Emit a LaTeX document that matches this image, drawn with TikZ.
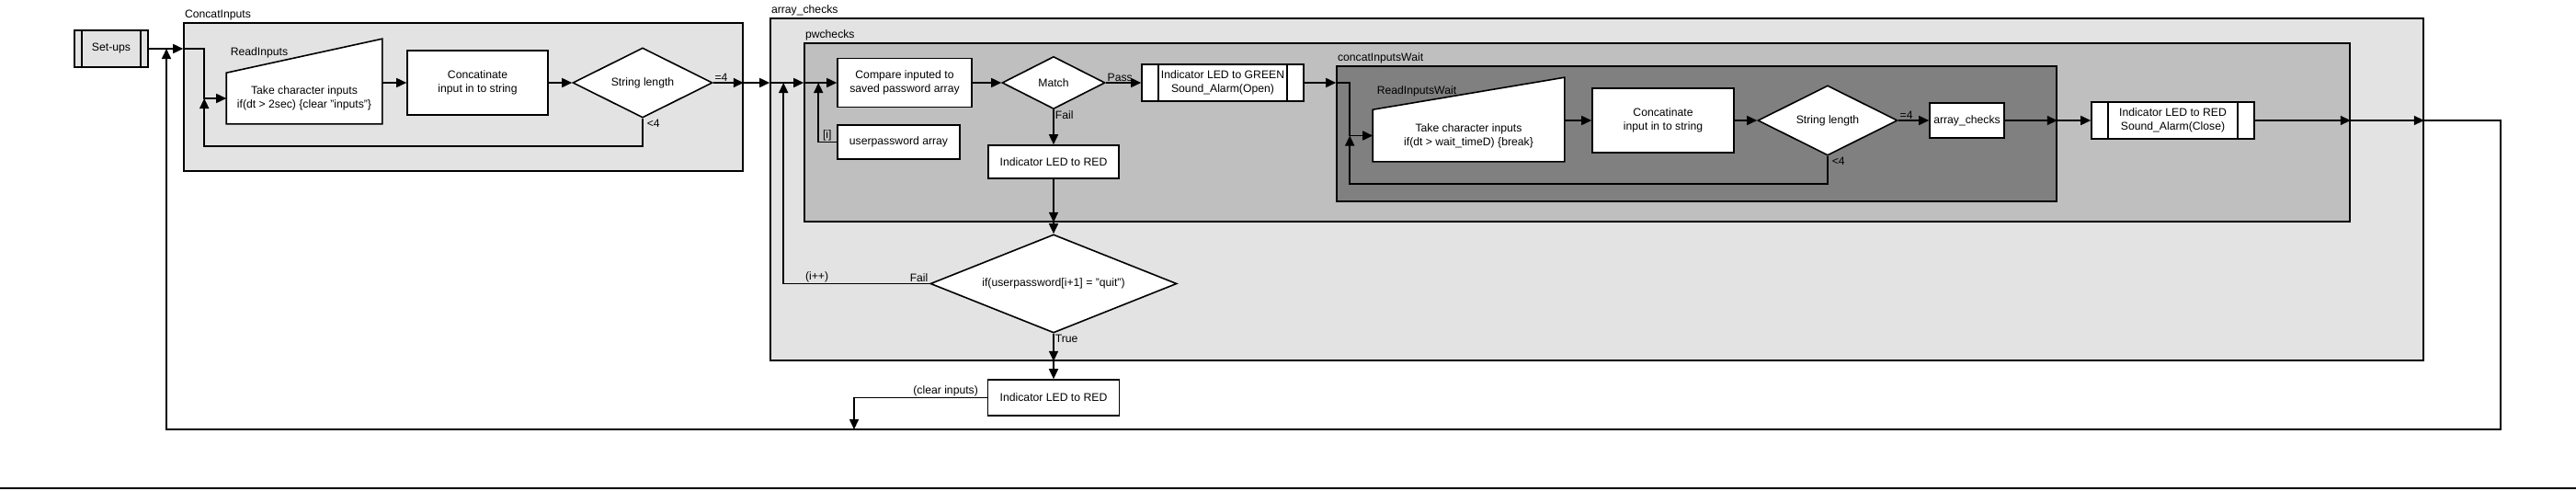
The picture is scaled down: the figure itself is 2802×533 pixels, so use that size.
\documentclass[tikz,border=0pt]{standalone}
\usepackage{fontspec}
\setmainfont{Liberation Sans}
\usetikzlibrary{arrows.meta, shapes.geometric, calc}

\begin{document}
\begin{tikzpicture}[x = 1pt, y = -1pt, line width = 1.6pt, >={Triangle[length=11pt, width=10pt]},
	font = \fontsize{12.2}{15}\selectfont,
	grp/.style = {draw, inner sep = 0pt},
	box/.style = {draw, fill = white, align = center, inner sep = 0pt},
	subbox/.style = {box, path picture = {\draw [line width = 1.6pt] ([xshift = #1]path picture bounding box.north west) -- ([xshift = #1]path picture bounding box.south west) ([xshift = -#1]path picture bounding box.north east) -- ([xshift = -#1]path picture bounding box.south east);}},
	cond/.style = {diamond, aspect = 2.5, draw, fill = white, align = center, inner sep = 0pt},
	inbox/.style = {minimum width = 168, minimum height = 54, inner sep = 0pt},
	lbl/.style = {inner sep = 1pt}]
	\useasboundingbox (0,0) rectangle (2802,533);
	\node [grp, fill = black!11, minimum width = 608, minimum height = 161] (ci) at (504,105.5) {};
	\node [lbl, anchor = south west] (cilbl) at (ci.north west) {ConcatInputs};
	\node [grp, fill = black!11, minimum width = 1798, minimum height = 372] (ac) at (1737,206) {};
	\node [lbl, anchor = south west] (aclbl) at (ac.north west) {array\_checks};
	\node [grp, fill = black!25, minimum width = 1681, minimum height = 194] (pw) at (1715.5,144) {};
	\node [lbl, anchor = south west] (pwlbl) at (pw.north west) {pwchecks};
	\node [grp, fill = black!50, minimum width = 783, minimum height = 147] (ciw) at (1845.5,145.5) {};
	\node [lbl, anchor = south west] (ciwlbl) at (ciw.north west) {concatInputsWait};

	\node [subbox = 8pt, fill = black!11, minimum width = 80, minimum height = 40] (setup) at (121,53) {Set-ups};
	\node [inbox] (rdin) at (331,107) {};
	\draw [fill = white] (rdin.south west) -- (rdin.south east) -- ([yshift = 37pt]rdin.north east) -- (rdin.north west) -- cycle;
	\node [align = center] (rdintxt) at (rdin) {Take character inputs\\if(dt > 2sec) \{clear "inputs"\}};
	\node [lbl, anchor = west] (rdinlbl) at (249,57) {ReadInputs};
	\node [box, minimum width = 153, minimum height = 70] (cat1) at (519.5,90) {Concatinate\\input in to string};
	\node [cond, minimum width = 152, minimum height = 76] (len1) at (699,90) {String length};

	\node [box, minimum width = 146, minimum height = 53] (cmp) at (984,90) {Compare inputed to\\saved password array};
	\node [box, minimum width = 133, minimum height = 37] (usr) at (977.5,154.5) {userpassword array};
	\node [cond, minimum width = 112, minimum height = 57] (match) at (1146,90) {Match};
	\node [subbox = 18pt, minimum width = 176, minimum height = 40] (green) at (1330,90) {Indicator LED to GREEN\\Sound\_Alarm(Open)};
	\node [box, minimum width = 142, minimum height = 36] (red1) at (1146,176) {Indicator LED to RED};
	\node [cond, minimum width = 268, minimum height = 107] (quit) at (1146,308.5) {if(userpassword[i+1] = "quit")};
	\node [box, minimum width = 143, minimum height = 39] (red3) at (1146,432.5) {Indicator LED to RED};

	\node [inbox, minimum width = 207, minimum height = 55] (rdw) at (1597.5,147.5) {};
	\draw [fill = white] (rdw.south west) -- (rdw.south east) -- ([yshift = 35pt]rdw.north east) -- (rdw.north west) -- cycle;
	\node [align = center] (rdwtxt) at (rdw) {Take character inputs\\if(dt > wait\_timeD) \{break\}};
	\node [lbl, anchor = west] (rdwlbl) at (1496,99) {ReadInputsWait};
	\node [box, minimum width = 154, minimum height = 70] (cat2) at (1809,131) {Concatinate\\input in to string};
	\node [cond, minimum width = 152, minimum height = 76] (len2) at (1988,131) {String length};
	\node [box, minimum width = 81, minimum height = 38] (chk) at (2139.5,131) {array\_checks};
	\node [subbox = 18pt, minimum width = 177, minimum height = 40] (red2) at (2363.5,131) {Indicator LED to RED\\Sound\_Alarm(Close)};

	\coordinate (lb) at (181,467);
	\coordinate (bot) at (929,467);
	\coordinate (rb) at (2720,467);

	\draw [->] (setup.east) -- (ci.west |- setup.east);
	\draw [->] (ci.west |- setup.east) -| ($(rdin.west)+(-24,0)$) -- (rdin.west);
	\draw [->] (rdin.east |- cat1.west) -- (cat1.west);
	\draw [->] (cat1.east) -- (len1.west);
	\draw [->] (len1.east) -- node [lbl, pos = 0, anchor = south west] (eqa) {=4} (ci.east |- len1);
	\draw [->] (len1.south) -- node [lbl, pos = 0, anchor = north west, xshift = 3pt] (lta) {<4} ++(0,30) -| ($(rdin.west)+(-24,0)$);
	\draw [->] (ci.east |- len1) -- (ac.west |- len1);
	\draw [->] (ac.west |- len1) -- (pw.west |- len1);
	\draw [->] (pw.west |- len1) -- (cmp.west);
	\draw [->] (usr.west) -| node [lbl, pos = 0.5, anchor = south west, xshift = 3pt] (idx) {[i]} ($(cmp.west)+(-20,0)$);
	\draw [->] (cmp.east) -- (match.west);
	\draw [->] (match.east) -- node [lbl, pos = 0, anchor = south west] (pass) {Pass} (green.west);
	\draw [->] (match.south) -- node [lbl, pos = 0, anchor = north west] (faila) {Fail} (red1.north);
	\draw [->] (red1.south) -- (red1.south |- pw.south);
	\draw [->] (red1.south |- pw.south) -- (quit.north);
	\draw [->] (quit.west) -| node [lbl, pos = 0, anchor = south east] (failb) {Fail} node [lbl, pos = 0.5, anchor = south west, xshift = 22pt] (inc) {(i++)} ($(ac.west |- cmp.west)+(15,0)$);
	\draw [->] (quit.south) -- node [lbl, pos = 0, anchor = north west] (true) {True} (quit.south |- ac.south);
	\draw [->] (quit.south |- ac.south) -- (red3.north);
	\draw [->] (red3.west) -| node [lbl, pos = 0, anchor = south east, xshift = -8pt] (clr) {(clear inputs)} (bot);

	\draw [->] (green.east) -- (green.east -| ciw.west);
	\draw [->] (green.east -| ciw.west) -| ($(rdw.west)+(-25,0)$) -- (rdw.west);
	\draw [->] (rdw.east |- cat2.west) -- (cat2.west);
	\draw [->] (cat2.east) -- (len2.west);
	\draw [->] (len2.east) -- node [lbl, pos = 0, anchor = south west] (eqb) {=4} (chk.west);
	\draw [->] (len2.south) -- node [lbl, pos = 0, anchor = north west, xshift = 3pt] (ltb) {<4} ++(0,30) -| ($(rdw.west)+(-25,0)$);
	\draw [->] (chk.east) -- (chk.east -| ciw.east);
	\draw [->] (chk.east -| ciw.east) -- (red2.west);
	\draw [->] (red2.east) -- (red2.east -| pw.east);
	\draw [->] (red2.east -| pw.east) -- (red2.east -| ac.east);
	\draw [->] (red2.east -| ac.east) -| (rb) -- (lb) -- (lb |- setup.east);

	\draw (0,531) -- (2802,531);
\end{tikzpicture}
\end{document}
